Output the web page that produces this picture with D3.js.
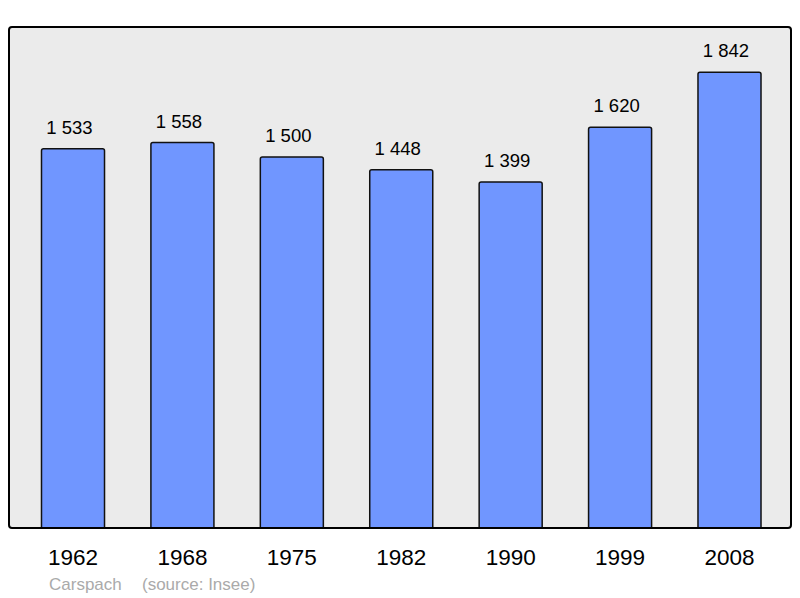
<!DOCTYPE html>
<html><head><meta charset="utf-8">
<script src="https://cdn.jsdelivr.net/npm/d3@7"></script>
<style>body{margin:0;background:#fff}svg{display:block}</style>
</head><body>
<script>
const years = ["1962","1968","1975","1982","1990","1999","2008"];
const population = [1533,1558,1500,1448,1399,1620,1842];
const place = "Carspach";
const source = "(source: Insee)";

const W = 800, H = 598;
const frame = {x0: 9, y0: 27, x1: 791, y1: 528};
const svg = d3.select("body").append("svg").attr("width", W).attr("height", H);

svg.append("defs").append("clipPath").attr("id", "clip")
  .append("rect").attr("x", frame.x0).attr("y", frame.y0)
  .attr("width", frame.x1 - frame.x0).attr("height", frame.y1 - frame.y0);

const x = d3.scaleBand().domain(years).range([18.3, 784.2]).paddingInner(0.424).paddingOuter(0.212);
const y = d3.scaleLinear().domain([0, 2025]).range([frame.y1, frame.y0]);

svg.append("rect").attr("x", frame.x0).attr("y", frame.y0)
  .attr("width", frame.x1 - frame.x0).attr("height", frame.y1 - frame.y0)
  .attr("rx", 3).attr("fill", "#ebebeb");

const g = svg.append("g");
g.append("g").attr("clip-path", "url(#clip)")
  .selectAll("rect.bar").data(years).join("rect").attr("class","bar")
  .attr("x", d => x(d)).attr("width", x.bandwidth())
  .attr("y", (d,i) => y(population[i]))
  .attr("height", (d,i) => y(0) - y(population[i]) + 6)
  .attr("rx", 2)
  .attr("fill", "#7096ff").attr("stroke", "#111").attr("stroke-width", 1.5);

g.selectAll("text.val").data(years).join("text").attr("class","val")
  .attr("x", d => x(d) + x.bandwidth()/2 - 3.5)
  .attr("y", (d,i) => y(population[i]) - 15)
  .attr("text-anchor", "middle")
  .attr("font-family", "Liberation Sans, Arial, sans-serif")
  .attr("font-size", 18.5).attr("fill", "#000")
  .text((d,i) => d3.format(",")(population[i]).replace(/,/g, " "));

// frame border on top
svg.append("rect").attr("x", frame.x0).attr("y", frame.y0)
  .attr("width", frame.x1 - frame.x0).attr("height", frame.y1 - frame.y0)
  .attr("rx", 3).attr("fill", "none").attr("stroke", "#000").attr("stroke-width", 2);

const xAxis = d3.axisBottom(x).tickSize(0).tickPadding(0);
const ax = svg.append("g").attr("transform", `translate(0,${frame.y1})`).call(xAxis);
ax.select(".domain").remove();
ax.selectAll("text").attr("font-family", "Liberation Sans, Arial, sans-serif")
  .attr("font-size", 22.5).attr("fill", "#000").attr("dy", null).attr("y", 36.5);

svg.append("text").attr("x", 49).attr("y", 590)
  .attr("font-family", "Liberation Sans, Arial, sans-serif")
  .attr("font-size", 17).attr("fill", "#aaa").text(place);
svg.append("text").attr("x", 142).attr("y", 590)
  .attr("font-family", "Liberation Sans, Arial, sans-serif")
  .attr("font-size", 17).attr("fill", "#aaa").text(source);
</script>
</body></html>
